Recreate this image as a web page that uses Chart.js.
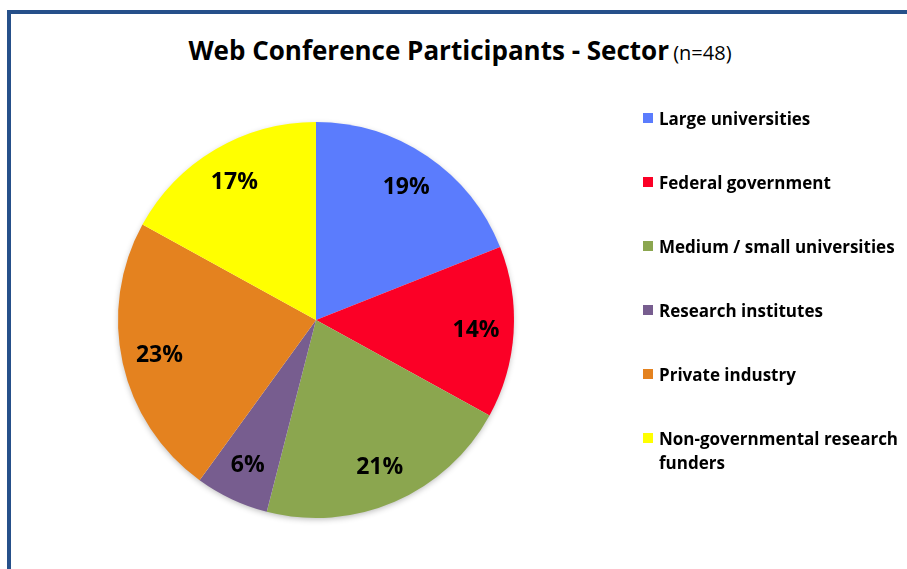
<!DOCTYPE html>
<html>
<head>
<meta charset="utf-8">
<script src="https://cdn.jsdelivr.net/npm/chart.js@4/dist/chart.umd.min.js"></script>
<style>
  html, body { margin: 0; padding: 0; background: #fff; }
  body { width: 907px; height: 569px; position: relative; overflow: hidden; font-family: "Open Sans", sans-serif; }
  #frame { position: absolute; left: 7px; top: 10px; width: 1000px; height: 700px; border-left: 4px solid #26508a; border-top: 4px solid #26508a; }
  #title { position: absolute; left: 0; top: 32px; width: 920px; text-align: center; color: #000; white-space: nowrap; }
  #title b { font-size: 26px; font-weight: 700; }
  #title span { font-size: 20px; font-weight: 400; }
  #chart { position: absolute; left: 0; top: 0; }
  #legend { position: absolute; left: 643px; top: 107px; }
  .item { position: relative; height: 64px; padding-left: 16px; font-size: 17px; font-weight: 700; line-height: 24px; color: #000; white-space: nowrap; }
  .item i { position: absolute; left: 0; top: 6px; width: 10px; height: 10px; }
</style>
</head>
<body>
<div id="frame"></div>
<div id="title"><b>Web Conference Participants - Sector</b> <span>(n=48)</span></div>
<canvas id="chart" width="907" height="569"></canvas>
<div id="legend"></div>
<script>
// data (percent of participants)
const sectors = [
  "Large universities",
  "Federal government",
  "Medium / small universities",
  "Research institutes",
  "Private industry",
  "Non-governmental research funders"
];
const shares = [19, 14, 21, 6, 23, 17];
const colors = ["#5b7cfd", "#fb0026", "#8ba64f", "#775d8f", "#e4821f", "#ffff00"];

// legend, HTML so the last label can wrap like the original
const legendEl = document.getElementById("legend");
sectors.forEach((s, i) => {
  const d = document.createElement("div");
  d.className = "item";
  d.innerHTML = '<i style="background:' + colors[i] + '"></i>' +
    (s === "Non-governmental research funders" ? "Non-governmental research<br>funders" : s);
  legendEl.appendChild(d);
});

// percent labels inside slices
const sliceLabels = {
  id: "sliceLabels",
  afterDatasetsDraw(chart) {
    const ctx = chart.ctx;
    const meta = chart.getDatasetMeta(0);
    ctx.save();
    ctx.font = "bold 23px 'Open Sans', sans-serif";
    ctx.fillStyle = "#000";
    ctx.textAlign = "center";
    ctx.textBaseline = "middle";
    meta.data.forEach((arc, i) => {
      const p = arc.getProps(["x", "y", "startAngle", "endAngle", "outerRadius"], true);
      const mid = (p.startAngle + p.endAngle) / 2;
      const r = p.outerRadius * 0.81;
      ctx.fillText(shares[i] + "%", p.x + Math.cos(mid) * r, p.y + Math.sin(mid) * r);
    });
    ctx.restore();
  }
};

// soft drop shadow under the whole pie (not between slices)
const pieShadow = {
  id: "pieShadow",
  beforeDatasetsDraw(chart) {
    const arc = chart.getDatasetMeta(0).data[0];
    if (!arc) return;
    const p = arc.getProps(["x", "y", "outerRadius"], true);
    const ctx = chart.ctx;
    ctx.save();
    ctx.shadowColor = "rgba(0,0,0,0.3)";
    ctx.shadowBlur = 6;
    ctx.shadowOffsetY = 2;
    ctx.fillStyle = "#fff";
    ctx.beginPath();
    ctx.arc(p.x, p.y, p.outerRadius - 1, 0, Math.PI * 2);
    ctx.fill();
    ctx.restore();
  }
};

new Chart(document.getElementById("chart"), {
  type: "pie",
  data: {
    labels: sectors,
    datasets: [{
      data: shares,
      backgroundColor: colors,
      borderWidth: 0
    }]
  },
  options: {
    responsive: false,
    animation: false,
    layout: { padding: { left: 118, top: 122, right: 393, bottom: 51 } },
    plugins: {
      legend: { display: false },
      tooltip: { enabled: false }
    }
  },
  plugins: [pieShadow, sliceLabels]
});
</script>
</body>
</html>
